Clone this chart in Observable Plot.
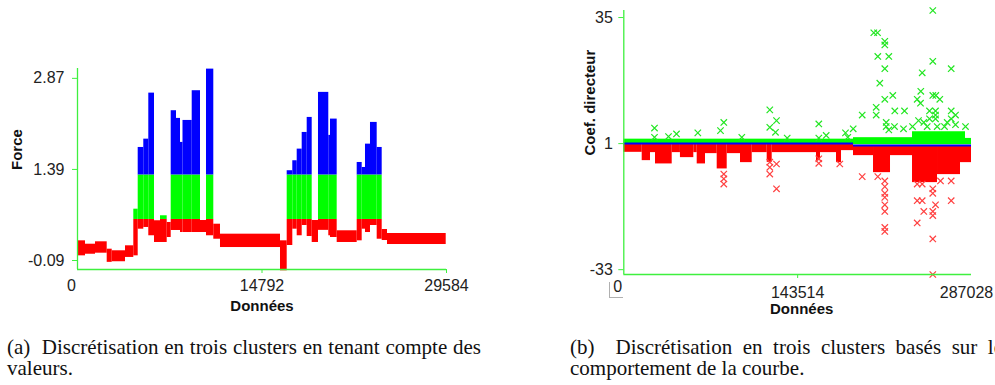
<!DOCTYPE html>
<html>
<head>
<meta charset="utf-8">
<script src="https://cdn.jsdelivr.net/npm/d3@7"></script>
<script src="https://cdn.jsdelivr.net/npm/@observablehq/plot@0.6"></script>
<style>
  html, body { margin: 0; padding: 0; background: #fff; }
  #root { position: relative; width: 995px; height: 385px; overflow: hidden; background: #fff; }
  #left { position: absolute; left: 0; top: 0; }
  #right { position: absolute; left: 560px; top: 0; }
  .cap { position: absolute; font-family: "Liberation Serif", "Times New Roman", serif; font-size: 21px; line-height: 21px; color: #111; text-align: justify; }
  #capA { left: 7px; top: 337px; width: 474px; }
  #capB { left: 570px; top: 337px; width: 433px; }
  #bracket { position: absolute; left: 609px; top: 282px; width: 13px; height: 15px; border-left: 1.5px solid #b0b0b0; border-bottom: 1.5px solid #b0b0b0; }
</style>
</head>
<body>
<div id="root">
  <div id="left"></div>
  <div id="right"></div>
  <div id="bracket"></div>
  <div class="cap" id="capA">(a)&nbsp; Discrétisation en trois clusters en tenant compte des valeurs.</div>
  <div class="cap" id="capB">(b)&nbsp; Discrétisation en trois clusters basés sur le comportement de la courbe.</div>
</div>
<script>
// ---------- Panel (a): Force ----------
const xTicksA = [0, 14792, 29584];
const xTickLabelsA = ["0", "14792", "29584"];
const yTicksA = [-0.09, 1.39, 2.87];
const yTickLabelsA = ["-0.09", "1.39", "2.87"];
const xDomainA = [0, 29584];
const yDomainA = [-0.236, 3.03];
const clusterThresholdsA = [0.577, 1.30];   // red | green | blue

// segments of the force trace: start index, low and high force value
const forceStart = [0, 641, 1443, 2381, 2782, 3848, 4514, 4866, 5315, 5716, 6173, 6654, 7191, 7512, 7937, 8258, 8458, 9196, 9861, 10342, 10927, 11464, 16275, 16812, 17261, 17614, 18014, 18415, 18816, 19321, 20147, 20283, 20820, 22424, 22824, 23089, 23490, 24027, 24428, 24853];
const forceEnd = 29560;
const forceLow = [-0.014, 0.012, 0.029, -0.12, -0.11, -0.04, -0.014, 0.419, 0.447, 0.312, 0.203, 0.203, 0.284, 0.398, 0.398, 0.365, 0.365, 0.365, 0.365, 0.312, 0.256, 0.121, -0.257, 0.154, 0.419, 0.312, 0.479, 0.30, 0.203, 0.40, 0.312, 0.284, 0.203, 0.23, 0.419, 0.365, 0.479, 0.256, 0.235, 0.17];
const forceHigh = [0.230, 0.175, 0.214, 0.094, 0.068, 0.149, 0.744, 1.747, 1.882, 2.630, 0.556, 0.637, 0.528, 2.344, 2.219, 1.829, 2.186, 2.669, 0.56, 3.02, 0.50, 0.338, 0.23, 1.369, 1.531, 1.72, 1.991, 2.235, 0.56, 2.642, 1.943, 2.208, 0.393, 1.503, 1.422, 1.801, 2.154, 1.747, 0.414, 0.349];

const RED = "#ff0000", GREEN = "#00ff00", BLUE = "#0000ff", AXIS = "#3ef03e", TEXT = "#222";

const piecesA = [];
forceStart.forEach((s, i) => {
  const e = i + 1 < forceStart.length ? forceStart[i + 1] : forceEnd;
  const lo = forceLow[i], hi = forceHigh[i];
  const [t1, t2] = clusterThresholdsA;
  if (lo < t1) piecesA.push({x1: s, x2: e, y1: lo, y2: Math.min(hi, t1), c: RED});
  if (hi > t1 && lo < t2) piecesA.push({x1: s, x2: e, y1: Math.max(lo, t1), y2: Math.min(hi, t2), c: GREEN});
  if (hi > t2) piecesA.push({x1: s, x2: e, y1: Math.max(lo, t2), y2: hi, c: BLUE});
});

const fmtA = d => xTickLabelsA[xTicksA.indexOf(d)];
const plotA = Plot.plot({
  width: 470, height: 325,
  marginLeft: 77, marginRight: 24, marginTop: 68, marginBottom: 56,
  style: {fontFamily: "Liberation Sans, Arial, sans-serif", background: "transparent"},
  x: {domain: xDomainA, axis: null},
  y: {domain: yDomainA, axis: null},
  marks: [
    Plot.rect(piecesA, {x1: "x1", x2: "x2", y1: "y1", y2: "y2", fill: "c", inset: 0}),
    Plot.ruleX([xDomainA[0]], {stroke: AXIS, strokeWidth: 1.3}),
    Plot.ruleY([yDomainA[0]], {stroke: AXIS, strokeWidth: 1.3}),
    Plot.axisY({ticks: yTicksA, tickFormat: d => yTickLabelsA[yTicksA.indexOf(d)], tickSize: 5, tickPadding: 8, stroke: AXIS, fill: TEXT, fontSize: 16, label: null}),
    Plot.axisX({ticks: xTicksA.slice(0, 1), tickFormat: fmtA, tickSize: 0, tickPadding: 10, dx: -6, fill: TEXT, fontSize: 16, label: null}),
    Plot.axisX({ticks: xTicksA.slice(1), tickFormat: fmtA, tickSize: 4, tickPadding: 6, stroke: AXIS, fill: TEXT, fontSize: 16, label: null}),
    Plot.text(["Force"], {frameAnchor: "left", dx: -60, dy: 1, rotate: -90, fontWeight: "bold", fontSize: 15, fill: "#111"}),
    Plot.text(["Données"], {frameAnchor: "bottom", dy: 41, fontWeight: "bold", fontSize: 15, fill: "#111"})
  ]
});
document.getElementById("left").appendChild(plotA);

// ---------- Panel (b): Coef. directeur ----------
const xTicksB = [0, 143514, 287028];
const xTickLabelsB = ["0", "143514", "287028"];
const yTicksB = [-33, 1, 35];
const yTickLabelsB = ["-33", "1", "35"];
const xDomainB = [0, 287028];
const yDomainB = [-34.3, 36.9];

// dense red band below 1
const redStart = [0, 15190, 22040, 26170, 39950, 46750, 57790, 60590, 67440, 77100, 85360, 96340, 106000, 118380, 122500, 159080, 162380, 175590, 179720, 189620, 206140, 220170, 238330, 258970, 277950];
const redEnd = 287028;
const redLow = [-1.35, -3.59, -1.43, -4.48, -1.43, -2.78, -1.43, -4.48, -1.70, -5.83, -1.70, -4.13, -1.43, -4.05, -1.43, -3.59, -1.43, -4.13, -0.89, -2.24, -6.83, -2.24, -9.52, -7.36, -4.13];
const redHigh = [0.75, 0.75, 0.75, 0.75, 0.75, 0.75, 0.75, 0.75, 0.75, 0.75, 0.75, 0.75, 0.75, 0.75, 0.75, 0.75, 0.75, 0.75, 0.75, 0.45, 0.45, 0.45, 0.45, 0.45, 0.45];

// dense green band above 1
const greenStart = [0, 189620, 238330, 282070];
const greenEnd = 287028;
const greenHigh = [2.2, 2.6, 4.2, 2.4];
const greenLow = [1.0, 0.7, 0.7, 0.7];

// blue cluster (flat line)
const blueStart = [0, 189620];
const blueEnd = [189620, 287028];
const blueLevel = [1.05, 0.5];

// scattered green crosses
const greenX = [255080, 206380, 209430, 215460, 215460, 209680, 218760, 215460, 255080, 246330, 270270, 211330, 245170, 255080, 257560, 215460, 222060, 260860, 242200, 244920, 208350, 208350, 196800, 223710, 231720, 252360, 257310, 270270, 273820, 257310, 216610, 216610, 218760, 25340, 25340, 43500, 61090, 82550, 79830, 120520, 120520, 126060, 125230, 134890, 160970, 160970, 167080, 183010, 184910, 189370, 36900, 97410, 252360, 247650, 250460, 257310, 258710, 266970, 270270, 282070, 264740, 273820, 238330, 243280, 230900, 223460];
const greenY = [36.9, 30.9, 30.9, 28.6, 27.6, 24.5, 24.5, 21.2, 23.2, 20.1, 21.2, 17.3, 15.1, 14.0, 14.0, 12.95, 14.0, 12.95, 12.95, 11.9, 10.8, 8.7, 8.7, 9.8, 9.8, 9.8, 9.8, 9.8, 8.7, 8.7, 6.7, 5.6, 4.7, 5.2, 2.7, 3.6, 3.9, 6.7, 4.5, 10.1, 5.4, 7.2, 4.05, 2.5, 6.3, 2.5, 3.2, 3.9, 2.7, 5.0, 2.9, 2.7, 7.7, 6.7, 5.6, 7.7, 5.6, 6.7, 7.7, 5.6, 5.6, 6.1, 5.6, 7.2, 5.0, 5.6];

// scattered red crosses
const redX = [196800, 209680, 215460, 215460, 215460, 215460, 215460, 215460, 215460, 242200, 246330, 242200, 247650, 255080, 255080, 257310, 270270, 261430, 255080, 255080, 255080, 255080, 246330, 242200, 270270, 82550, 82550, 82550, 120520, 120520, 120520, 126060, 126060, 160970, 160970, 178310, 215460];
const redY = [-7.9, -7.9, -9.07, -12.4, -13.5, -15.5, -17.3, -21.6, -22.7, -14.4, -14.4, -20.4, -17.3, -17.3, -18.4, -15.5, -14.4, -9.07, -11.2, -12.4, -24.7, -34.3, -9.9, -9.9, -9.07, -7.2, -8.5, -9.9, -4.0, -5.4, -7.2, -4.5, -11.2, -3.1, -4.3, -4.5, -10.6];

const band = (starts, end, lows, highs) => starts.map((s, i) => ({
  x1: s, x2: i + 1 < starts.length ? starts[i + 1] : end, y1: lows[i], y2: highs[i]
}));
const redBand = band(redStart, redEnd, redLow, redHigh);
const greenBand = band(greenStart, greenEnd, greenLow, greenHigh);
const blueLine = blueStart.map((s, i) => ({x1: s, x2: blueEnd[i], y: blueLevel[i]}));
const greenPts = greenX.map((x, i) => ({x, y: greenY[i]}));
const redPts = redX.map((x, i) => ({x, y: redY[i]}));

const fmtB = d => xTickLabelsB[xTicksB.indexOf(d)];
const plotB = Plot.plot({
  width: 435, height: 330,
  marginLeft: 63.3, marginRight: 24, marginTop: 10, marginBottom: 56,
  style: {fontFamily: "Liberation Sans, Arial, sans-serif", background: "transparent"},
  x: {domain: xDomainB, axis: null},
  y: {domain: yDomainB, axis: null},
  marks: [
    Plot.rect(redBand, {x1: "x1", x2: "x2", y1: "y1", y2: "y2", fill: RED}),
    Plot.rect(greenBand, {x1: "x1", x2: "x2", y1: "y1", y2: "y2", fill: GREEN}),
    Plot.dot(redPts, {x: "x", y: "y", symbol: "times", r: 3, stroke: "#ff4040", strokeWidth: 1.2}),
    Plot.dot(greenPts, {x: "x", y: "y", symbol: "times", r: 3, stroke: "#22e622", strokeWidth: 1.2}),
    Plot.ruleY(blueLine, {y: "y", x1: "x1", x2: "x2", stroke: BLUE, strokeWidth: 2}),
    Plot.ruleX([xDomainB[0]], {stroke: AXIS, strokeWidth: 1.3}),
    Plot.ruleY([yDomainB[0]], {stroke: AXIS, strokeWidth: 1.3}),
    Plot.axisY({ticks: yTicksB, tickFormat: d => yTickLabelsB[yTicksB.indexOf(d)], tickSize: 5, tickPadding: 6, stroke: AXIS, fill: TEXT, fontSize: 16, label: null}),
    Plot.axisX({ticks: xTicksB.slice(0, 1), tickFormat: fmtB, tickSize: 0, tickPadding: 6, dx: -6, fill: TEXT, fontSize: 16, label: null}),
    Plot.axisX({ticks: xTicksB.slice(1, 2), tickFormat: fmtB, tickSize: 4, tickPadding: 8, stroke: AXIS, fill: TEXT, fontSize: 16, label: null}),
    Plot.axisX({ticks: xTicksB.slice(2), tickFormat: fmtB, tickSize: 0, tickPadding: 12, dx: -5, fill: TEXT, fontSize: 16, label: null}),
    Plot.text(["Coef. directeur"], {frameAnchor: "left", dx: -34, dy: 13, rotate: -90, fontWeight: "bold", fontSize: 15, fill: "#111"}),
    Plot.text(["Données"], {frameAnchor: "bottom", dx: 4, dy: 39, fontWeight: "bold", fontSize: 15, fill: "#111"})
  ]
});
document.getElementById("right").appendChild(plotB);
</script>
</body>
</html>
